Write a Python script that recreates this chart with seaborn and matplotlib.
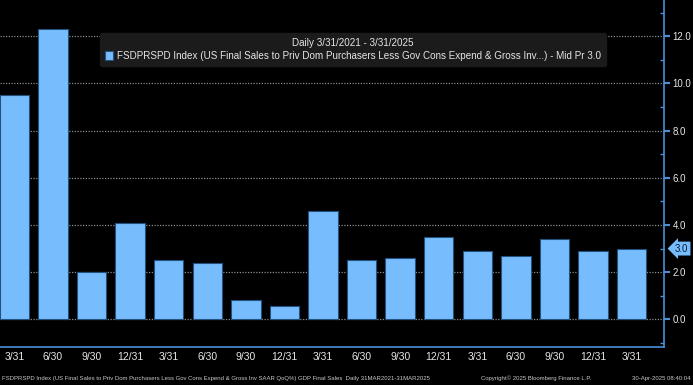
import numpy as np
import pandas as pd
import matplotlib
matplotlib.use("Agg")
import matplotlib.pyplot as plt
from matplotlib.ticker import MultipleLocator, FormatStrFormatter
import seaborn as sns

# quarter-end dates and QoQ SAAR values
quarters = ["3/31/2021", "6/30/2021", "9/30/2021", "12/31/2021",
            "3/31/2022", "6/30/2022", "9/30/2022", "12/31/2022",
            "3/31/2023", "6/30/2023", "9/30/2023", "12/31/2023",
            "3/31/2024", "6/30/2024", "9/30/2024", "12/31/2024",
            "3/31/2025"]
tick_labels = ["3/31", "6/30", "9/30", "12/31"] * 4 + ["3/31"]
values = [9.5, 12.3, 2.0, 4.1, 2.5, 2.4, 0.82, 0.58, 4.6,
          2.5, 2.6, 3.5, 2.9, 2.7, 3.4, 2.9, 3.0]
last_value = 3.0

legend_title = "Daily 3/31/2021 - 3/31/2025"
series_name = ("FSDPRSPD Index (US Final Sales to Priv Dom Purchasers Less Gov "
               "Cons Expend & Gross Inv...) - Mid Pr 3.0")
footer_left = ("FSDPRSPD Index (US Final Sales to Priv Dom Purchasers Less Gov Cons "
               "Expend & Gross Inv SAAR QoQ%) GDP Final Sales  Daily 31MAR2021-31MAR2025")
footer_mid = "Copyright\u00a9 2025 Bloomberg Finance L.P."
footer_right = "30-Apr-2025 08:40:04"

df = pd.DataFrame({"quarter": quarters, "value": values})

# colours
bg = "black"
bar_color = "#77BDFE"
spine_color = "#4A8FD8"
text_color = "#E6E6E6"

sns.set_style("dark")
plt.rcParams["font.family"] = ["Liberation Sans", "DejaVu Sans"]

fig = plt.figure(figsize=(6.93, 3.85), dpi=100, facecolor=bg)
ax = fig.add_axes([0.0, 0.0987, 664 / 693, 1 - 0.0987])
ax.set_facecolor(bg)

sns.barplot(data=df, x="quarter", y="value", color=bar_color, saturation=1,
            width=0.765, edgecolor="#24527F", linewidth=0.8,
            label=series_name, ax=ax, zorder=3)

ax.set_xlim(-0.373, 16.84)
ax.set_ylim(-1.17, 13.53)

# y axis on the right
ax.yaxis.tick_right()
ax.yaxis.set_major_locator(MultipleLocator(2))
ax.yaxis.set_minor_locator(MultipleLocator(1))
ax.yaxis.set_major_formatter(FormatStrFormatter("%.1f"))
ax.tick_params(axis="y", which="major", direction="out", length=4, width=1.5,
               color=spine_color, labelcolor=text_color, labelsize=7, pad=2)
ax.tick_params(axis="y", which="minor", direction="in", length=3, width=1,
               color=spine_color)

ax.set_xticks(range(len(tick_labels)))
ax.set_xticklabels(tick_labels)
ax.tick_params(axis="x", direction="out", length=2, width=1,
               color=spine_color, labelcolor=text_color, labelsize=7.5, pad=1.5)

ax.set_xlabel("")
ax.set_ylabel("")

# dotted grid behind bars
ax.grid(False)
ax.yaxis.grid(True, which="major", linestyle=(0, (1, 1.2)), color="#8C8C8C",
              linewidth=0.9, zorder=0)
ax.set_axisbelow(True)

for side in ["top", "left"]:
    ax.spines[side].set_visible(False)
for side in ["right", "bottom"]:
    ax.spines[side].set_visible(True)
    ax.spines[side].set_color(spine_color)
    ax.spines[side].set_linewidth(1.2)

# last value tag
ax.annotate(f"{last_value:.1f}", xy=(1.0, last_value),
            xycoords=("axes fraction", "data"), xytext=(8, 0),
            textcoords="offset points", ha="left", va="center",
            fontsize=7, color="#0A1E33",
            bbox=dict(boxstyle="larrow,pad=0.2", fc=bar_color, ec="none"),
            annotation_clip=False)

leg = ax.legend(loc="upper center", bbox_to_anchor=(353 / 693, 1 - 28 / 385),
                bbox_transform=fig.transFigure, title=legend_title,
                fontsize=7.1, title_fontsize=7.1, frameon=True, fancybox=True,
                facecolor="#1B1B1B", edgecolor="#1B1B1B", framealpha=1,
                handlelength=0.9, handleheight=0.9, handletextpad=0.4,
                borderpad=0.5, labelspacing=0.3)
for t in leg.get_texts():
    t.set_color(text_color)
leg.get_title().set_color(text_color)

# footer
fig.text(0.003, 0.013, footer_left, fontsize=4.3, color="#C8C8C8", ha="left")
fig.text(481 / 693, 0.013, footer_mid, fontsize=4.3, color="#C8C8C8", ha="left")
fig.text(0.997, 0.013, footer_right, fontsize=4.3, color="#C8C8C8", ha="right")

fig.savefig("out.png", dpi=100, facecolor=bg)
